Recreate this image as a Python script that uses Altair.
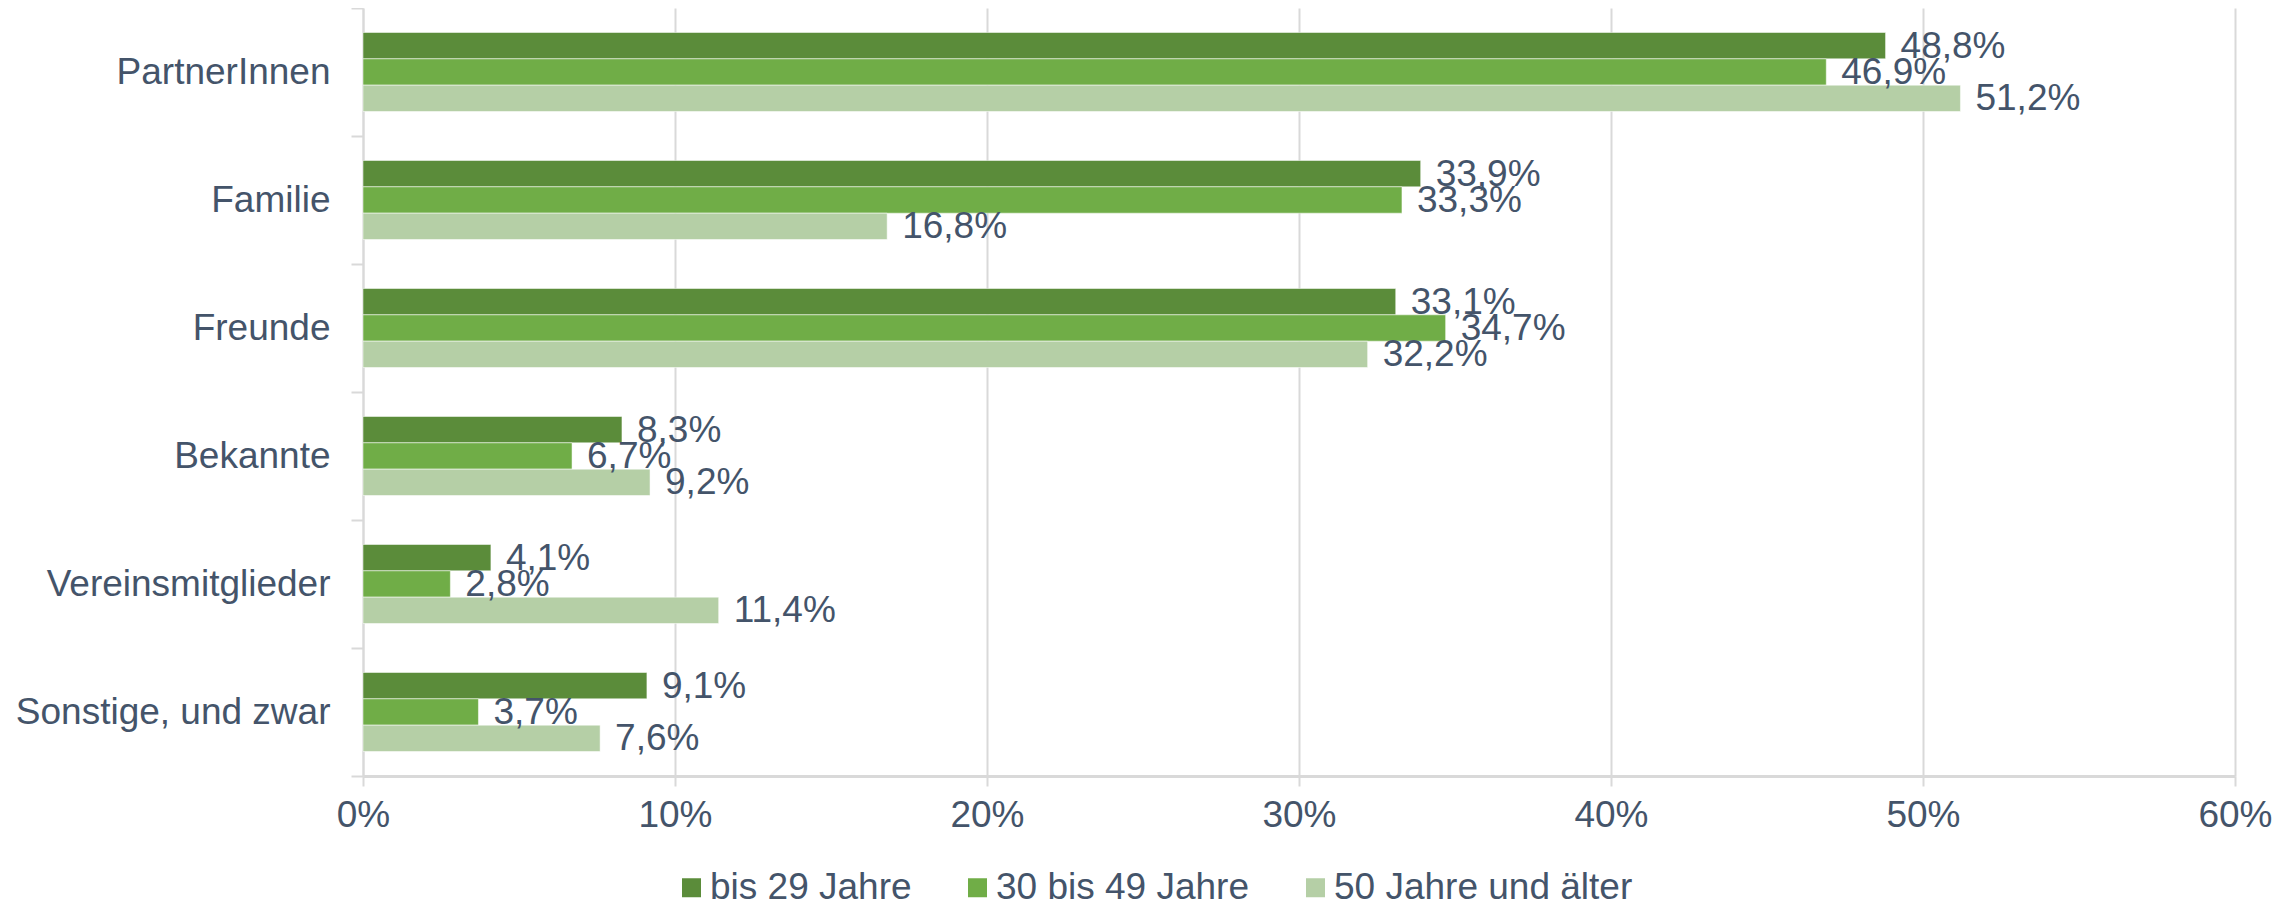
import altair as alt
import pandas as pd

categories = ["PartnerInnen", "Familie", "Freunde", "Bekannte",
              "Vereinsmitglieder", "Sonstige, und zwar"]
groups = ["bis 29 Jahre", "30 bis 49 Jahre", "50 Jahre und älter"]
bis29 = [48.8, 33.9, 33.1, 8.3, 4.1, 9.1]
von30bis49 = [46.9, 33.3, 34.7, 6.7, 2.8, 3.7]
ab50 = [51.2, 16.8, 32.2, 9.2, 11.4, 7.6]
x_ticks = [0, 10, 20, 30, 40, 50, 60]
colors = ["#5B8C3A", "#70AD47", "#B5CFA6"]

rows = []
for g, series in zip(groups, [bis29, von30bis49, ab50]):
    for c, v in zip(categories, series):
        rows.append({"Kategorie": c, "Gruppe": g, "Wert": v,
                     "Label": f"{v:.1f}".replace(".", ",") + "%"})
df = pd.DataFrame(rows)

font = "Liberation Sans"
txt = "#44546A"
grid = "#D9D9D9"

y = alt.Y("Kategorie:N", sort=categories, title=None,
          scale=alt.Scale(paddingInner=0, paddingOuter=0),
          axis=alt.Axis(labelFont=font, labelFontSize=37, labelColor=txt,
                        labelLimit=600, labelPadding=21, tickSize=12,
                        tickColor=grid, tickWidth=2, domainColor=grid,
                        domainWidth=2, tickBand="extent", grid=False))
yoff = alt.YOffset("Gruppe:N", sort=groups,
                   scale=alt.Scale(paddingInner=0, paddingOuter=0.93))
x_axis = alt.X("Wert:Q", title=None,
               scale=alt.Scale(domain=[0, 60], nice=False),
               axis=alt.Axis(values=x_ticks, labelExpr="datum.value + '%'",
                             labelFont=font, labelFontSize=37, labelColor=txt,
                             labelPadding=11, labelFlush=False, tickSize=10,
                             tickColor=grid, tickWidth=2, grid=True,
                             gridColor=grid, gridWidth=2, domainColor=grid,
                             domainWidth=3))
color = alt.Color("Gruppe:N", sort=groups,
                  scale=alt.Scale(domain=groups, range=colors),
                  legend=alt.Legend(orient="none", legendX=310, legendY=861,
                                    direction="horizontal", title=None,
                                    symbolType="square", symbolSize=361,
                                    symbolStrokeWidth=0, labelFont=font,
                                    labelFontSize=37, labelColor=txt,
                                    labelOffset=0, columnPadding=47,
                                    labelLimit=600))

bars = alt.Chart(df).mark_bar(stroke="#FFFFFF", strokeWidth=1, strokeOpacity=0.5).encode(
    x=x_axis, y=y, yOffset=yoff, color=color)

labels = alt.Chart(df).mark_text(align="left", baseline="middle", dx=15, dy=1,
                                 font=font, fontSize=37, color=txt).encode(
    x=x_axis, y=y, yOffset=yoff, text="Label:N")

chart = (bars + labels).properties(
    width=1872, height=768,
    autosize=alt.AutoSizeParams(type="none"),
    padding={"left": 355, "top": 0, "right": 40, "bottom": 130},
).configure_view(stroke=None)

chart.save("out.html", embed_options={"renderer": "svg", "actions": False})
